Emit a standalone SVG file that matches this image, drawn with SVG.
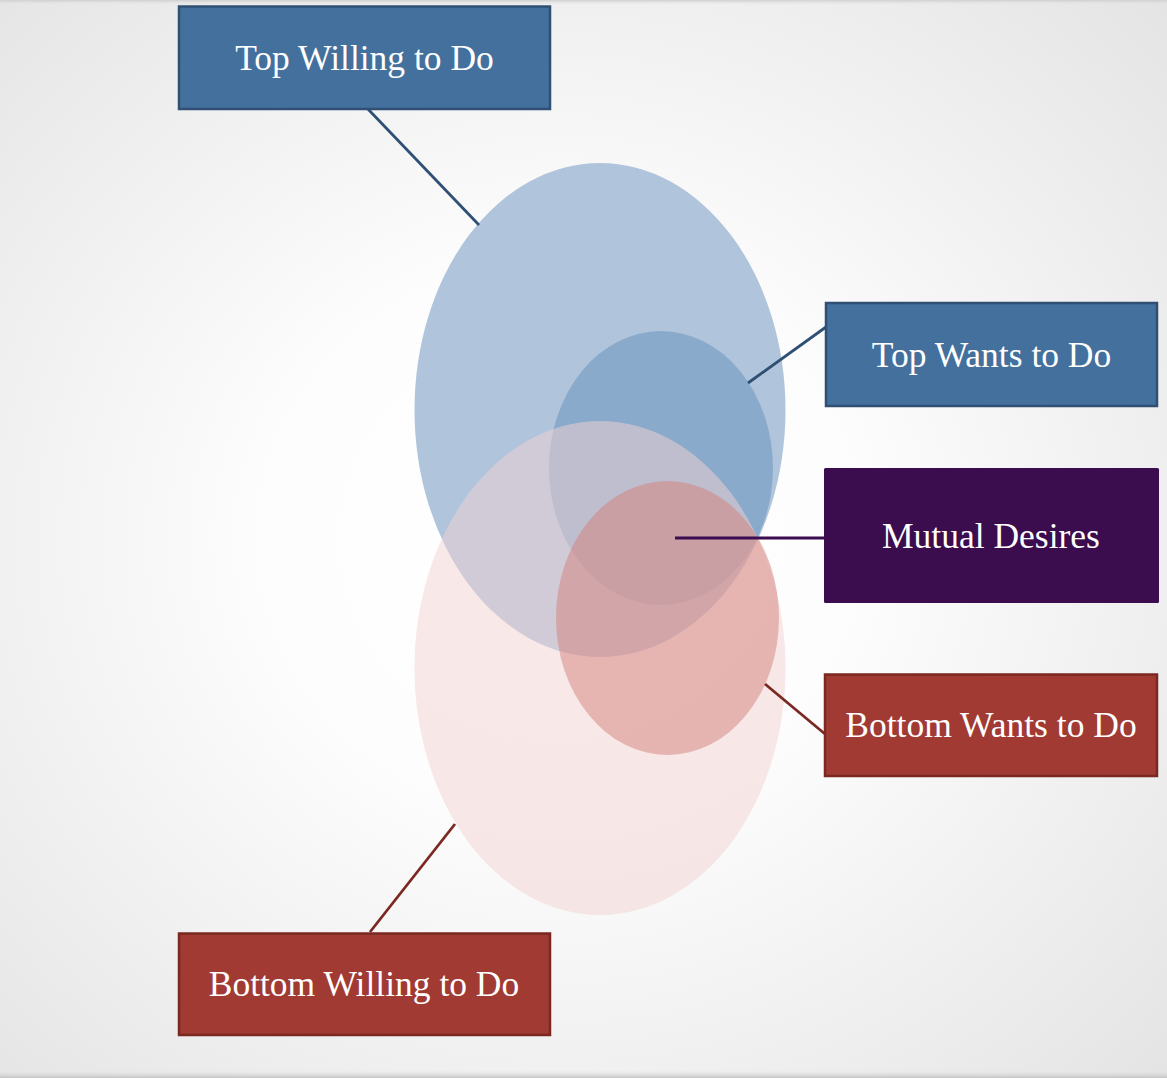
<svg xmlns="http://www.w3.org/2000/svg" width="1167" height="1078" viewBox="0 0 1167 1078">
  <defs>
    <radialGradient id="bg" cx="0.48" cy="0.5" r="0.72" gradientUnits="objectBoundingBox">
      <stop offset="0" stop-color="#FFFFFF"/>
      <stop offset="0.35" stop-color="#FDFDFD"/>
      <stop offset="1" stop-color="#E4E4E4"/>
    </radialGradient>
    <linearGradient id="topShade" x1="0" y1="0" x2="0" y2="1">
      <stop offset="0" stop-color="#CFCFCF"/>
      <stop offset="1" stop-color="#E8E8E8" stop-opacity="0"/>
    </linearGradient>
    <linearGradient id="botShade" x1="0" y1="0" x2="0" y2="1">
      <stop offset="0" stop-color="#E8E8E8" stop-opacity="0"/>
      <stop offset="1" stop-color="#C4C4C4"/>
    </linearGradient>
  </defs>
  <style>
    .lbl { font-family: "Liberation Serif", "DejaVu Serif", serif; font-size: 35.5px; fill: #FFFFFF; text-anchor: middle; }
    .blue { fill: #44709D; stroke: #2F4F74; stroke-width: 2.5; }
    .red { fill: #A03A33; stroke: #7A2821; stroke-width: 2.5; }
    .purple { fill: #3B0C4E; }
    .cb { stroke: #2F4F74; stroke-width: 2.8; fill: none; }
    .cr { stroke: #7A2821; stroke-width: 2.8; fill: none; }
    .cp { stroke: #3B0C4E; stroke-width: 2.8; fill: none; }
  </style>

  <rect x="0" y="0" width="1167" height="1078" fill="url(#bg)"/>
  <rect x="0" y="0" width="1167" height="5" fill="url(#topShade)"/>
  <rect x="0" y="1070" width="1167" height="8" fill="url(#botShade)"/>

  <g id="venn">
    <ellipse id="top-willing-set" cx="600" cy="410" rx="185.5" ry="247" fill="#B0C5DC"/>
    <ellipse id="top-wants-set" cx="661" cy="468" rx="112" ry="137" fill="#8AAACC"/>
    <ellipse id="bottom-willing-set" cx="600" cy="668" rx="185.5" ry="247" fill="#F1D2D2" fill-opacity="0.5"/>
    <ellipse id="bottom-wants-set" cx="667.5" cy="618" rx="111.5" ry="137" fill="#D4807A" fill-opacity="0.5"/>
  </g>

  <g id="connectors">
    <line class="cb" x1="366" y1="107" x2="479" y2="225"/>
    <line class="cb" x1="826" y1="327" x2="748" y2="383"/>
    <line class="cp" x1="675" y1="538" x2="824" y2="538"/>
    <line class="cr" x1="765" y1="684" x2="825" y2="734"/>
    <line class="cr" x1="370" y1="932" x2="455" y2="824"/>
  </g>

  <g id="top-willing">
    <rect class="blue" x="179" y="6.5" width="371" height="102.5"/>
    <text class="lbl" x="364.5" y="70">Top Willing to Do</text>
  </g>
  <g id="top-wants">
    <rect class="blue" x="826" y="303" width="331" height="103"/>
    <text class="lbl" x="991.5" y="366.5">Top Wants to Do</text>
  </g>
  <g id="mutual-desires">
    <rect class="purple" x="824" y="468" width="335" height="135" rx="1.5"/>
    <text class="lbl" x="991" y="547.5">Mutual Desires</text>
  </g>
  <g id="bottom-wants">
    <rect class="red" x="825" y="674.5" width="332" height="101.5"/>
    <text class="lbl" x="991" y="736.5">Bottom Wants to Do</text>
  </g>
  <g id="bottom-willing">
    <rect class="red" x="179" y="933.5" width="371" height="101.5"/>
    <text class="lbl" x="364" y="996">Bottom Willing to Do</text>
  </g>
</svg>
